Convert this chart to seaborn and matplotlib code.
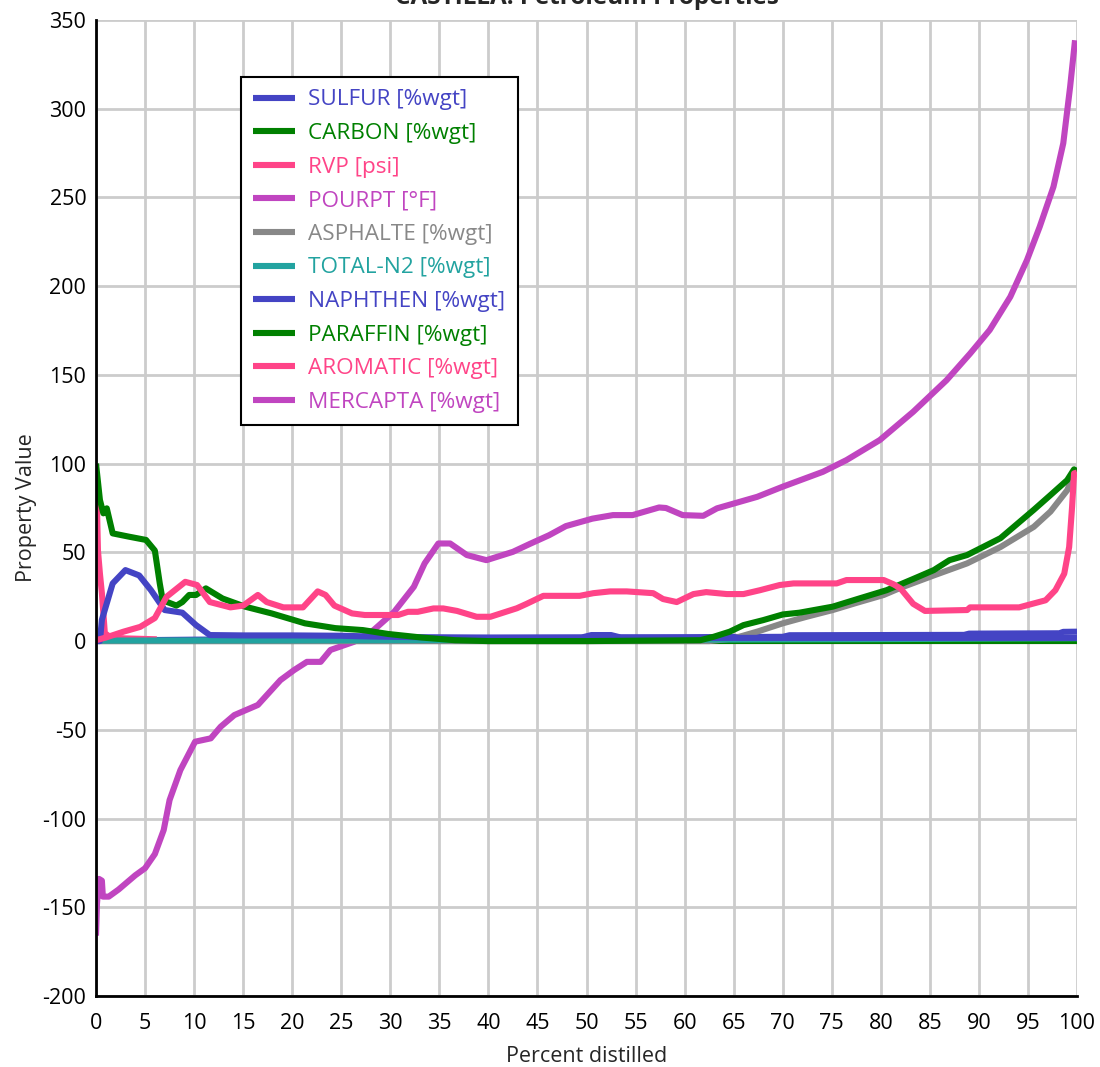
import numpy as np
import pandas as pd
import matplotlib
matplotlib.use("Agg")
import matplotlib.pyplot as plt
import seaborn as sns

# ---------------- data ----------------
series_names = ["SULFUR [%wgt]", "CARBON [%wgt]", "RVP [psi]", "POURPT [°F]",
                "ASPHALTE [%wgt]", "TOTAL-N2 [%wgt]", "NAPHTHEN [%wgt]",
                "PARAFFIN [%wgt]", "AROMATIC [%wgt]", "MERCAPTA [%wgt]"]
series_colors = ["#4444C4", "#008000", "#FF4488", "#C045C0",
                 "#888888", "#22A3A0", "#4444C4", "#008000", "#FF4488", "#C045C0"]

sulfur_x = [0, 10, 30, 50, 60, 70, 70.7, 88.5, 89.0, 98.2, 98.6, 100]
sulfur_y = [0.3, 0.8, 1.5, 2.0, 2.2, 2.4, 3.3, 3.5, 4.2, 4.4, 5.2, 5.3]

carbon_x = [0, 20, 40, 60, 80, 100]
carbon_y = [0, 0, 0, 0, 0, 0]

rvp_x = [0, 0.1, 0.2, 0.4, 0.6, 0.9, 1.5, 3, 5, 6.2]
rvp_y = [90, 75, 51, 38, 27, 4.5, 2, 1.5, 1.2, 1.0]

pourpt_x = [0, 0.1, 0.3, 0.6, 0.7, 1.3, 2.3, 4.0, 5.0, 6.0, 6.9, 7.5, 8.6, 10.1, 11.7,
            12.7, 14.1, 16.5, 18.8, 20.2, 21.5, 22.9, 23.9, 26.3, 28.3, 30.4, 32.4,
            33.5, 34.9, 36.1, 37.8, 39.8, 42.5, 44.2, 46.2, 47.9, 50.6, 52.7, 54.7,
            57.4, 58.1, 59.8, 61.9, 63.3, 67.4, 70.0, 74.1, 76.5, 79.9, 83.3, 86.7,
            89.1, 91.1, 93.2, 94.9, 96.2, 97.6, 98.6, 99.3, 99.8]
pourpt_y = [-166, -148, -134, -135, -144, -144, -140, -132, -128, -120, -106.5, -89.6,
            -72.7, -56.7, -54.8, -48.3, -41.7, -36, -22, -16.3, -11.7, -11.7, -5, -0.4,
            6.2, 16.5, 30.6, 43.8, 55, 55, 48.5, 45.6, 50.3, 54.7, 59.7, 64.8, 69, 71,
            71, 75.3, 75, 71, 70.6, 74.8, 81.3, 87, 95.4, 102, 113.3, 129.2, 147, 162,
            175.3, 194, 214.7, 233.5, 256, 280.5, 312.4, 338.6]

asphalte_x = [0, 30, 62.5, 65, 67.5, 70, 72.5, 75.1, 77.5, 80.3, 82, 85.4, 88.8, 92.2,
              95.6, 97.3, 99, 99.7]
asphalte_y = [0, 0, 0, 1.5, 5.5, 10, 13.8, 17.5, 21.5, 26, 30, 37, 43.8, 53, 64.4, 73,
              85, 94]

totaln2_x = [0, 20, 40, 60, 80, 90, 100]
totaln2_y = [0.3, 0.4, 0.6, 0.8, 1.1, 1.4, 1.6]

naphthen_x = [0, 0.4, 0.6, 1.7, 3.0, 4.4, 5.6, 7.0, 8.8, 10.2, 11.6, 15, 20, 25, 28,
              33, 40, 49.5, 50.5, 52.5, 53.5, 60, 100]
naphthen_y = [0, 0, 12, 32.5, 40, 37, 28.7, 17.5, 16, 9, 3.4, 3.2, 3.2, 3.0, 2.6, 2.2,
              2.0, 2.0, 3.4, 3.4, 2.0, 1.8, 1.8]

paraffin_x = [0, 0.4, 0.75, 1.1, 1.7, 3.4, 5.1, 6.0, 6.5, 6.8, 8.2, 8.8, 9.5, 10.2,
              11.2, 12.9, 15.2, 17.9, 21.3, 24.4, 27.2, 29.8, 33.2, 36.6, 40, 50, 61.6,
              63.0, 64.6, 66, 68, 70, 71.7, 75.1, 77.8, 80.6, 83.3, 85.4, 87, 88.8,
              92.2, 95.6, 97.3, 99, 99.7, 100]
paraffin_y = [100, 79.5, 72, 74.8, 60.7, 58.8, 57, 51, 32.5, 23, 20, 22, 26, 26, 29.7,
              24, 19.4, 15.6, 10, 7.3, 6.2, 4, 2, 0.5, 0, 0, 0.5, 2.5, 5.3, 9, 11.8, 15,
              16, 19.4, 24, 28.7, 35, 40, 45.6, 48.5, 58, 74, 82.3, 90.7, 96.8, 95.5]

aromatic_x = [0, 1, 2.8, 4.5, 6.0, 7.2, 9.1, 10.3, 11.6, 13.7, 15.0, 16.5, 17.4, 19.1,
              21.1, 22.6, 23.4, 24.3, 26.1, 27.4, 30.8, 31.8, 32.8, 34.4, 35.4, 36.8,
              38.8, 40.2, 42.9, 43.9, 45.6, 49.3, 50.7, 52.4, 54.1, 56.8, 57.8, 59.2,
              60.9, 62.2, 64.3, 66.0, 67.7, 69.7, 71.1, 75.5, 76.5, 80.3, 81.3, 82.0,
              83.3, 84.5, 88.8, 89.1, 94.1, 96.8, 97.8, 98.7, 99.2, 99.5, 99.7, 100]
aromatic_y = [0.5, 2, 5.3, 8, 13, 25, 33.4, 31.6, 22, 19, 20, 26, 22, 19, 19, 28, 26,
              20, 15.6, 14.7, 14.7, 16.5, 16.5, 18.4, 18.4, 17, 13.7, 13.7, 18.5, 21,
              25.5, 25.5, 27, 28, 28, 27, 23.7, 22, 26.5, 27.6, 26.5, 26.5, 28.7, 31.6,
              32.5, 32.5, 34.4, 34.4, 32, 29.7, 21, 17, 17.5, 19, 19, 23, 28.7, 38, 53,
              75.7, 94.5, 95]

mercapta_x = [0, 50, 100]
mercapta_y = [0, 0, 0]

x_ticks = list(range(0, 101, 5))
y_ticks = list(range(-200, 351, 50))

all_x = [sulfur_x, carbon_x, rvp_x, pourpt_x, asphalte_x, totaln2_x, naphthen_x,
         paraffin_x, aromatic_x, mercapta_x]
all_y = [sulfur_y, carbon_y, rvp_y, pourpt_y, asphalte_y, totaln2_y, naphthen_y,
         paraffin_y, aromatic_y, mercapta_y]

frames = [pd.DataFrame({"x": xs, "y": ys, "series": name})
          for name, xs, ys in zip(series_names, all_x, all_y)]
df = pd.concat(frames, ignore_index=True)

# ---------------- style ----------------
sns.set_style("white")
plt.rcParams["font.family"] = ["Open Sans", "DejaVu Sans"]
plt.rcParams["axes.unicode_minus"] = False

fig = plt.figure(figsize=(11, 10.67), dpi=100)
ax = fig.add_axes([96 / 1100, 1 - 996 / 1067, (1077 - 96) / 1100, (996 - 20) / 1067])

zorders = {name: 2 + i * 0.01 for i, name in enumerate(series_names)}
zorders["MERCAPTA [%wgt]"] = 1.9
lw = 4.4
for name, color in zip(series_names, series_colors):
    sub = df[df["series"] == name]
    sns.lineplot(data=sub, x="x", y="y", ax=ax, color=color, lw=lw, sort=False,
                 estimator=None, label=name, zorder=zorders[name],
                 solid_capstyle="butt", solid_joinstyle="round")

ax.set_xlim(0, 100)
ax.set_ylim(-200, 350)
ax.set_xticks(x_ticks)
ax.set_yticks(y_ticks)
ax.grid(True, color="#CCCCCC", lw=2, zorder=0)
ax.set_axisbelow(True)
for s in ["top", "right"]:
    ax.spines[s].set_visible(False)
for s in ["left", "bottom"]:
    ax.spines[s].set_color("black")
    ax.spines[s].set_linewidth(2)
fs = 15.5
ax.tick_params(axis="both", direction="in", length=9, width=2, colors="black",
               labelsize=fs, pad=7)
ax.tick_params(axis="x", pad=12)
ax.set_xlabel("Percent distilled", fontsize=fs, labelpad=9)
ax.set_ylabel("Property Value", fontsize=fs, labelpad=4)

fig.text((96 + 1077) / 2 / 1100, 1 - 4 / 1067, "CASTILLA: Petroleum Properties",
         ha="center", va="baseline", fontsize=17.5, fontweight="bold")

leg = ax.legend(loc="upper left", bbox_to_anchor=((241 - 96) / 981, (996 - 77) / 976),
                borderaxespad=0, fontsize=16.2, frameon=True, fancybox=False,
                handlelength=1.85, handletextpad=0.6, labelspacing=0.56,
                borderpad=0.55)
leg.get_frame().set_edgecolor("black")
leg.get_frame().set_linewidth(1.5)
leg.get_frame().set_alpha(1)
for txt, color in zip(leg.get_texts(), series_colors):
    txt.set_color(color)
for h in leg.get_lines():
    h.set_linewidth(lw)

fig.savefig("out.png", dpi=100)
